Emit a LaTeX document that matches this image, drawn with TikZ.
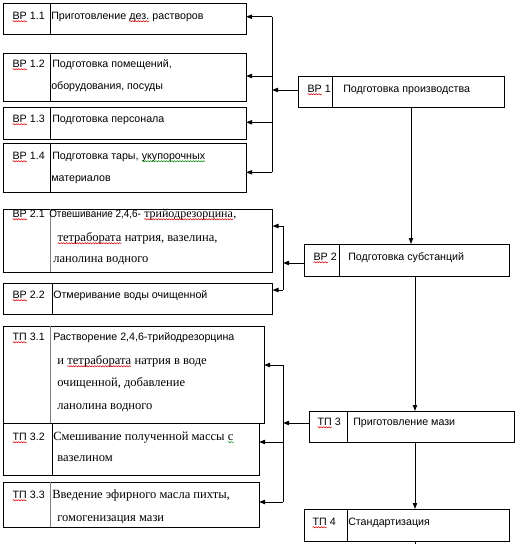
\documentclass[tikz,border=0pt]{standalone}
\usepackage{fontspec}
\setmainfont{Liberation Sans}
\newfontfamily\serifcyr{Liberation Serif}
\usetikzlibrary{fit,arrows.meta,decorations.pathmorphing}
\newcommand\wvy[2][red!85!black]{\tikz[baseline=(wv.base)]{\node[inner sep=0pt,outer sep=0pt](wv){#2};\draw[#1,line width=0.4pt,decorate,decoration={snake,amplitude=0.45pt,segment length=2pt}]([yshift=-1.3pt]wv.base west)--([yshift=-1.3pt]wv.base east);}}
\begin{document}
\begin{tikzpicture}[x=0.75pt,y=-0.75pt,
  box/.style={draw,line width=0.75pt,inner sep=0pt,outer sep=0pt},
  txt/.style={inner sep=0pt,anchor=mid west,font=\fontsize{8}{9}\selectfont},
  stxt/.style={inner sep=0pt,anchor=mid west,font=\serifcyr\fontsize{9.4}{10}\selectfont},
  conn/.style={line width=0.75pt},
  arr/.style={line width=0.75pt,-{Triangle[length=4.5pt,width=3.2pt]}},
  divb/.style={line width=0.75pt},
  divg/.style={line width=0.75pt,gray},
]
\useasboundingbox (0,0) rectangle (517,544);
% boxes
\node[box,fit={(3,3)(246,34)}] (b11) {};
\node[box,fit={(3,53)(246,101)}] (b12) {};
\node[box,fit={(3,107)(246,139)}] (b13) {};
\node[box,fit={(3,143)(246,192)}] (b14) {};
\node[box,fit={(298,76)(504,107)}] (b1) {};
\node[box,fit={(3,209)(272.5,272)}] (b21) {};
\node[box,fit={(3,283)(272.5,314)}] (b22) {};
\node[box,fit={(304,244)(509,276)}] (b2) {};
\node[box,fit={(3,326)(264,423)}] (t31) {};
\node[box,fit={(3,423)(259,475)}] (t32) {};
\node[box,fit={(3,482)(259,527)}] (t33) {};
\node[box,fit={(309,411)(514,442)}] (t3) {};
\node[box,fit={(304,509)(509,541)}] (t4) {};
% dividers
\draw[divb] (b11.north west -| 50,0) -- (b11.south west -| 50,0);
\draw[divb] (b12.north west -| 50,0) -- (b12.south west -| 50,0);
\draw[divb] (b13.north west -| 50,0) -- (b13.south west -| 50,0);
\draw[divb] (b14.north west -| 50,0) -- (b14.south west -| 50,0);
\draw[divb] (b1.north west -| 332,0) -- (b1.south west -| 332,0);
\draw[divg] (b21.north west -| 50,0) -- (b21.south west -| 50,0);
\draw[divb] (b22.north west -| 52,0) -- (b22.south west -| 52,0);
\draw[divb] (b2.north west -| 339,0) -- (b2.south west -| 339,0);
\draw[divg] (t31.north west -| 50,0) -- (t31.south west -| 50,0);
\draw[divb] (t32.north west -| 52,0) -- (t32.south west -| 52,0);
\draw[divg] (t33.north west -| 50,0) -- (t33.south west -| 50,0);
\draw[divb] (t3.north west -| 347,0) -- (t3.south west -| 347,0);
\draw[divb] (t4.north west -| 347,0) -- (t4.south west -| 347,0);
% texts
\node[txt] (l11) at (12,16) {\wvy{ВР} 1.1};
\node[txt] (x11) at (51,16) {Приготовление \wvy{дез.} растворов};
\node[txt] (l12) at (12,64) {\wvy{ВР} 1.2};
\node[txt] (x12a) at (52,64) {Подготовка помещений,};
\node[txt] (x12b) at (51,86) {оборудования, посуды};
\node[txt] (l13) at (12,119) {\wvy{ВР} 1.3};
\node[txt] (x13) at (52,119) {Подготовка персонала};
\node[txt] (l14) at (12,156) {\wvy{ВР} 1.4};
\node[txt] (x14a) at (52,156) {Подготовка тары, \wvy[green!55!black]{укупорочных}};
\node[txt] (x14b) at (51,178) {материалов};
\node[txt] (l1) at (307,89) {\wvy{ВР} 1};
\node[txt] (x1) at (343,89) {Подготовка производства};
\node[txt] (l2) at (313,257) {\wvy{ВР} 2};
\node[txt] (x2) at (348,257) {Подготовка субстанций};
\node[txt] (l3) at (317,422) {\wvy{ТП} 3};
\node[txt] (x3) at (353,422) {Приготовление мази};
\node[txt] (l4) at (312,522) {\wvy{ТП} 4};
\node[txt] (x4) at (348,522) {Стандартизация};
\node[txt] (l21) at (12,214) {\wvy{ВР} 2.1};
\node[txt] (x21a) at (49,214) {\scalebox{0.93}[1]{Отвешивание 2,4,6-} {\serifcyr\fontsize{9}{10}\selectfont\wvy{трийодрезорцина},}};
\node[stxt] (x21b) at (57,238) {\wvy{тетрабората} натрия, вазелина,};
\node[stxt] (x21c) at (53,259) {ланолина водного};
\node[txt] (l22) at (12,295) {\wvy{ВР} 2.2};
\node[txt] (x22) at (53,295) {Отмеривание воды очищенной};
\node[txt] (l31) at (12,337) {\wvy{ТП} 3.1};
\node[txt] (x31a) at (53,337) {Растворение 2,4,6-трийодрезорцина};
\node[stxt] (x31b) at (57,361) {и \wvy{тетрабората} натрия в воде};
\node[stxt] (x31c) at (57,383) {очищенной, добавление};
\node[stxt] (x31d) at (57,406) {ланолина водного};
\node[txt] (l32) at (12,437) {\wvy{ТП} 3.2};
\node[stxt] (x32a) at (53,437) {Смешивание полученной массы \wvy[green!55!black]{с}};
\node[stxt] (x32b) at (57,458) {вазелином};
\node[txt] (l33) at (12,495) {\wvy{ТП} 3.3};
\node[stxt] (x33a) at (52,495) {Введение эфирного масла пихты,};
\node[stxt] (x33b) at (57,518) {гомогенизация мази};
% bus coordinates
\coordinate (p1) at (272,90);
\coordinate (p1t) at (272,16.7);
\coordinate (p1b) at (272,172.3);
\coordinate (p2) at (283,263);
\coordinate (p2t) at (283,226);
\coordinate (p2b) at (283,290);
\coordinate (p3) at (283,423);
\coordinate (p3t) at (283,365);
\coordinate (p3b) at (283,502);
\coordinate (bot) at (415,544);
% bus 1
\draw[arr] (b1.west |- p1) -- (p1);
\draw[conn] (p1t) -- (p1b);
\draw[arr] (p1t) -- (b11.east |- p1t);
\draw[arr] (272,76) -- (b12.east |- 0,76);
\draw[arr] (272,122.3) -- (b13.east |- 0,122.3);
\draw[arr] (p1b) -- (b14.east |- p1b);
% bus 2
\draw[arr] (b2.west |- p2) -- (p2);
\draw[conn] (p2t) -- (p2b);
\draw[arr] (p2t) -- (b21.east |- p2t);
\draw[arr] (p2b) -- (b22.east |- p2b);
% bus 3
\draw[arr] (t3.west |- p3) -- (p3);
\draw[conn] (p3t) -- (p3b);
\draw[arr] (p3t) -- (t31.east |- p3t);
\draw[arr] (283,442) -- (t32.east |- 0,442);
\draw[arr] (p3b) -- (t33.east |- p3b);
% main chain
\draw[arr] (b1.south -| 411,0) -- (b2.north -| 411,0);
\draw[arr] (b2.south -| 415,0) -- (t3.north -| 415,0);
\draw[arr] (t3.south -| 415,0) -- (t4.north -| 415,0);
\draw[conn] (t4.south -| 415,0) -- (bot);
\end{tikzpicture}
\end{document}
